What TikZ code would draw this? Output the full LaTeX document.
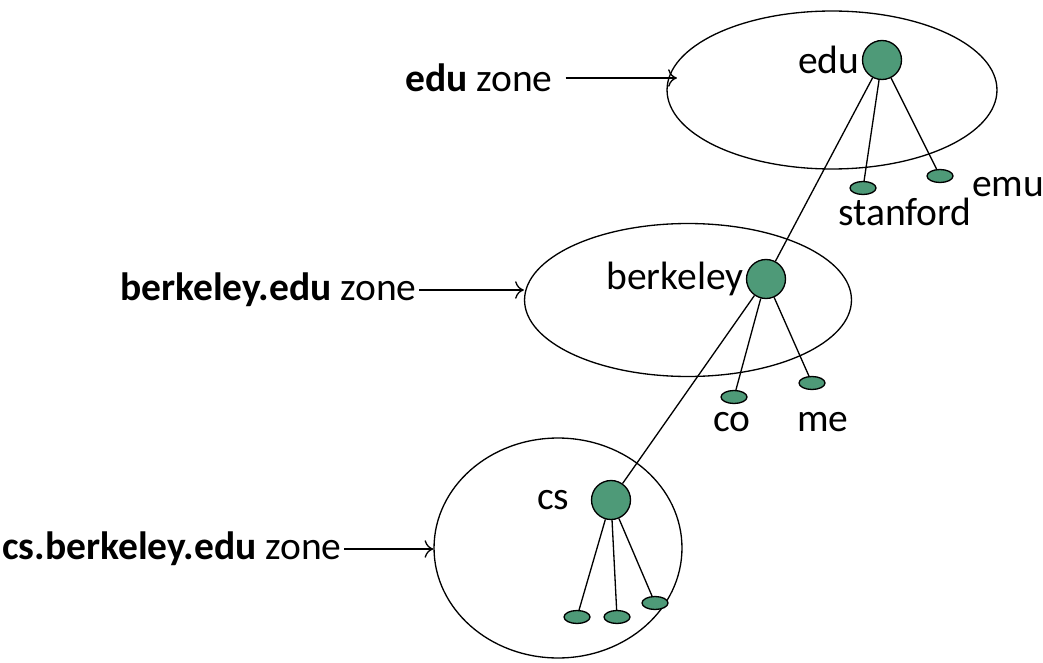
\documentclass[tikz,border=0pt]{standalone}
\usepackage{fontspec}
\setmainfont{Carlito}
\usetikzlibrary{shapes.geometric,positioning,arrows.meta}
\definecolor{hostgreen}{HTML}{4E9A78}

\begin{document}
\begin{tikzpicture}[x=0.02cm,y=-0.02cm,line width=0.75pt,
    every node/.style={font=\fontsize{22.5}{27}\selectfont},
    zone/.style={draw,ellipse,inner sep=0pt},
    host/.style={draw,circle,fill=hostgreen,minimum size=0.78cm,inner sep=0pt},
    leaf/.style={draw,ellipse,fill=hostgreen,minimum width=0.52cm,minimum height=0.26cm,inner sep=0pt},
    tag/.style={inner sep=1pt},
    pointer/.style={-{To[length=5pt,width=10pt]}}]
    \useasboundingbox (0,0) rectangle (1043,662);
    % zones
    \node[zone,minimum width=6.6cm,minimum height=3.16cm] (eduzone) at (832,90) {};
    \node[zone,minimum width=6.54cm,minimum height=3.06cm] (bzone) at (688,300) {};
    \node[zone,minimum width=4.96cm,minimum height=4.4cm] (cszone) at (558,548) {};
    % hosts
    \node[host] (edu) at (882,60) {};
    \node[host] (berkeley) at (766,279) {};
    \node[host] (cs) at (611,500) {};
    \node[leaf] (stanford) at (863,188) {};
    \node[leaf] (emu) at (940,176) {};
    \node[leaf] (co) at (734,397) {};
    \node[leaf] (me) at (812,383) {};
    \node[leaf] (csa) at (577,617) {};
    \node[leaf] (csb) at (617,617) {};
    \node[leaf] (csc) at (655,603) {};
    % host names
    \node[tag,left=0pt of edu] (edulbl) {edu};
    \node[tag,left=0pt of berkeley] (berkeleylbl) {berkeley};
    \node[tag,left=0.38cm of cs] (cslbl) {cs};
    \node[tag] (stanfordlbl) at (905,212) {stanford};
    \node[tag] (emulbl) at (1008,187) {emu};
    \node[tag] (colbl) at (732,422) {co};
    \node[tag] (melbl) at (823,422) {me};
    % zone names
    \node[tag,anchor=east] (eduname) at (555,78) {\textbf{edu} zone};
    \node[tag,anchor=east] (bname) at (419,290) {\textbf{berkeley.edu} zone};
    \node[tag,anchor=east] (csname) at (344,549) {\textbf{cs.berkeley.edu} zone};
    % tree
    \draw (edu) -- (berkeley) -- (cs);
    \draw (edu) -- (stanford);
    \draw (edu) -- (emu);
    \draw (berkeley) -- (co);
    \draw (berkeley) -- (me);
    \draw (cs) -- (csa);
    \draw (cs) -- (csb);
    \draw (cs) -- (csc);
    % pointers
    \draw[pointer] ([xshift=6pt]eduname.east) -- ([xshift=6pt]eduname.east -| eduzone.west);
    \draw[pointer] (bname.east) -- (bname.east -| bzone.west);
    \draw[pointer] (csname.east) -- (csname.east -| cszone.west);
\end{tikzpicture}
\end{document}
